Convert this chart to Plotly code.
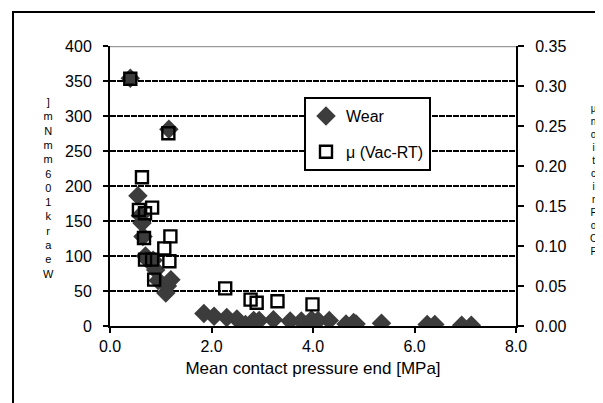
import plotly.graph_objects as go

# Wear (diamonds, left axis)
wear_x = [0.40, 0.55, 0.60, 0.63, 0.65, 0.70, 0.75, 0.85, 0.90, 0.95, 1.10, 1.13, 1.20, 1.16,
          1.85, 2.05, 2.30, 2.50, 2.67, 2.83, 2.94, 3.22, 3.55, 3.77, 3.97, 4.00, 4.10, 4.32,
          4.65, 4.80, 4.85, 5.35, 6.25, 6.40, 6.93, 7.12]
wear_y = [354, 186, 158, 147, 128, 100, 94, 94, 80, 65, 47, 57, 66, 281,
          18, 14, 12, 10, 2, 8, 8, 9, 7, 7, 9, 4, 8, 8,
          3, 5, 3, 4, 2, 2, 1, 1]

# Friction coefficient (open squares, right axis)
mu_x = [0.40, 0.63, 0.57, 0.69, 0.83, 0.67, 1.19, 1.07, 0.69, 0.83, 1.17, 0.87, 1.15,
        2.27, 2.77, 2.89, 3.30, 3.99]
mu_y = [0.309, 0.186, 0.145, 0.141, 0.148, 0.110, 0.112, 0.097, 0.083, 0.083, 0.081, 0.058, 0.241,
        0.047, 0.033, 0.029, 0.031, 0.027]

x_ticks = [0, 2, 4, 6, 8]
left_ticks = [0, 50, 100, 150, 200, 250, 300, 350, 400]
right_ticks = [0.00, 0.05, 0.10, 0.15, 0.20, 0.25, 0.30, 0.35]

left_title_chars = ["]", "m", "N", "m", "m", "6", "0", "1", "k", "r", "a", "e", "W"]
right_title_chars = ["μ", "n", "o", "i", "t", "c", "i", "r", "F", "o", "C", "F"]

FONT = "Liberation Sans Narrow, Liberation Sans, Arial, sans-serif"

fig = go.Figure()
fig.add_trace(go.Scatter(
    x=wear_x, y=wear_y, mode="markers", name="Wear", yaxis="y",
    marker=dict(symbol="diamond", size=15, color="#3c3c3c", line=dict(width=0)),
    legendgroup="a"))
fig.add_trace(go.Scatter(
    x=mu_x, y=mu_y, mode="markers", name="μ (Vac-RT)", yaxis="y2",
    marker=dict(symbol="square-open", size=12, color="#000000", line=dict(width=2.4)),
    legendgroup="b"))

L, R, T, B = 102, 95, 38, 85
W = 603 - L - R
H = 403 - T - B

fig.update_layout(
    width=603, height=403,
    margin=dict(l=L, r=R, t=T, b=B, pad=0),
    paper_bgcolor="white", plot_bgcolor="white",
    font=dict(family=FONT, size=15, color="#000"),
    showlegend=True,
    legend=dict(x=(296 - L) / W, y=(318 - 89) / H, xanchor="left", yanchor="top",
                bgcolor="white", bordercolor="#000", borderwidth=2,
                font=dict(size=16), tracegroupgap=12, itemwidth=30),
    xaxis=dict(range=[0, 8], tickvals=x_ticks, tickformat=".1f",
               showgrid=False, zeroline=False, showline=True, linecolor="#000", linewidth=2,
               ticks="outside", ticklen=5, tickwidth=2, tickcolor="#000",
               title=dict(text="Mean contact pressure end [MPa]", standoff=8, font=dict(size=17)),
               tickfont=dict(size=16)),
    yaxis=dict(range=[0, 400], tickvals=left_ticks, showgrid=True, gridcolor="#000",
               gridwidth=2, griddash="6px,1px", zeroline=False, showline=True,
               linecolor="#000", linewidth=2, ticks="outside", ticklen=5, tickwidth=2,
               tickcolor="#000", tickfont=dict(size=16), ticklabelstandoff=8),
    yaxis2=dict(range=[0, 0.35], tickvals=right_ticks, tickformat=".2f", overlaying="y",
                side="right", showgrid=False, zeroline=False, showline=True,
                linecolor="#000", linewidth=2, ticks="outside", ticklen=6, tickwidth=2,
                tickcolor="#000", tickfont=dict(size=16), ticklabelstandoff=8),
    yaxis3=dict(range=[0, 0.35], tickvals=right_ticks, overlaying="y", side="right",
                showgrid=False, zeroline=False, showline=False, showticklabels=False,
                ticks="inside", ticklen=6, tickwidth=2, tickcolor="#000"),
)

# gray top border of the plot area
fig.add_shape(type="line", xref="paper", yref="y", x0=0, x1=1, y0=400, y1=400,
              line=dict(color="#9a9a9a", width=2.5), layer="above")
# outer chart frame
fig.add_shape(type="rect", xref="paper", yref="paper",
              x0=(5 - L) / W, x1=(598 - L) / W, y0=(318 - 399) / H, y1=(318 - 4) / H,
              line=dict(color="#000", width=2), layer="below")

# stacked (vertical) axis titles, one character per line
fig.add_annotation(text="<br>".join(left_title_chars), xref="paper", yref="paper",
                   x=(40 - L) / W, y=(318 - 180) / H, showarrow=False,
                   font=dict(size=11, color="#000"), xanchor="center", yanchor="middle",
                   align="center")
fig.add_annotation(text="<br>".join(right_title_chars), xref="paper", yref="paper",
                   x=(585 - L) / W, y=(318 - 172) / H, showarrow=False,
                   font=dict(size=10, color="#000"), xanchor="center", yanchor="middle",
                   align="center")

fig.write_html("out.html")
